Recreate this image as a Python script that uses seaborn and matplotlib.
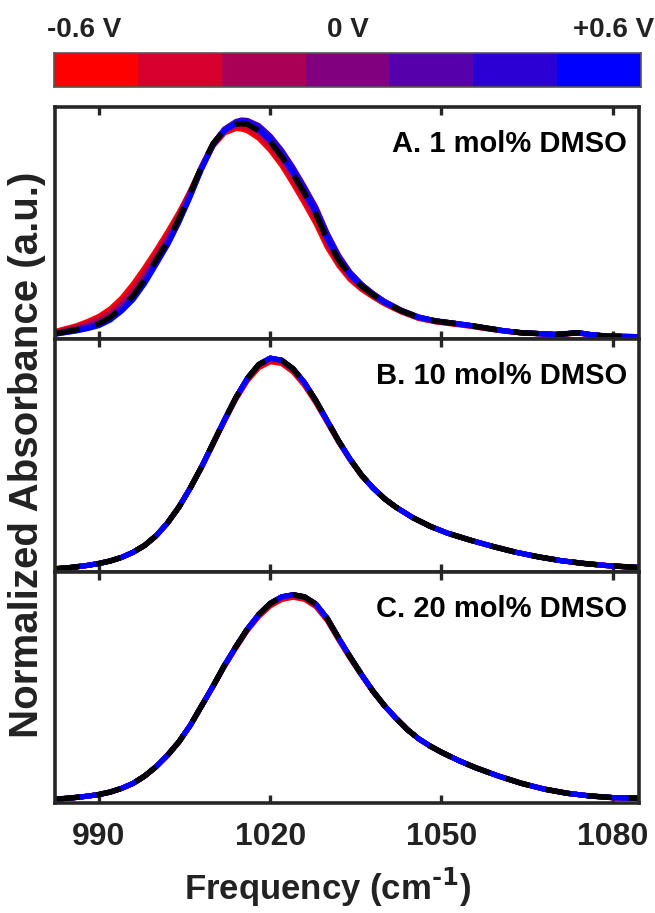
import numpy as np
import pandas as pd
import matplotlib
matplotlib.use("Agg")
import matplotlib.pyplot as plt
import seaborn as sns
from matplotlib.colors import ListedColormap

# Applied potentials and their colours (red -> blue)
potentials = ["-0.6 V", "-0.4 V", "-0.2 V", "0 V", "+0.2 V", "+0.4 V", "+0.6 V"]
potential_colors = ["#ff0000", "#d5002b", "#aa0055", "#800080", "#5500aa", "#2b00d5", "#0000ff"]
scale_labels = ["-0.6 V", "0 V", "+0.6 V"]

panel_titles = ["A. 1 mol% DMSO", "B. 10 mol% DMSO", "C. 20 mol% DMSO"]
x_ticks = [990, 1020, 1050, 1080]

# ---- A. 1 mol% DMSO -------------------------------------------------------
freq_a = [982.3, 984, 986, 988, 990, 992, 994, 996, 998, 1000,
          1002, 1004, 1006, 1008, 1010, 1012, 1014, 1015, 1016, 1018,
          1020, 1022, 1024, 1026, 1028, 1030, 1032, 1034, 1036, 1038,
          1040, 1043, 1046, 1049, 1052, 1055, 1058, 1061, 1064, 1067,
          1070, 1072, 1074, 1076, 1079, 1084.6]
a_ref = [0.02, 0.028, 0.038, 0.05, 0.066, 0.095, 0.14, 0.195, 0.27, 0.36,
         0.445, 0.55, 0.67, 0.795, 0.9, 0.965, 0.99, 0.993, 0.99, 0.96,
         0.91, 0.84, 0.76, 0.67, 0.575, 0.455, 0.36, 0.29, 0.24, 0.2,
         0.165, 0.125, 0.095, 0.078, 0.068, 0.058, 0.045, 0.033, 0.024, 0.02,
         0.016, 0.02, 0.024, 0.016, 0.008, 0.006]
a_m06 = [0.03, 0.042, 0.056, 0.076, 0.1, 0.135, 0.185, 0.25, 0.325, 0.405,
         0.49, 0.58, 0.68, 0.79, 0.89, 0.95, 0.97, 0.968, 0.96, 0.925,
         0.87, 0.8, 0.715, 0.625, 0.53, 0.42, 0.335, 0.27, 0.225, 0.19,
         0.158, 0.12, 0.09, 0.074, 0.064, 0.054, 0.042, 0.031, 0.023, 0.02,
         0.016, 0.019, 0.022, 0.014, 0.007, 0.006]
a_m04 = [0.027, 0.038, 0.051, 0.068, 0.09, 0.122, 0.168, 0.23, 0.305, 0.39,
         0.475, 0.57, 0.68, 0.795, 0.895, 0.958, 0.98, 0.98, 0.975, 0.94,
         0.885, 0.815, 0.732, 0.642, 0.548, 0.435, 0.345, 0.278, 0.23, 0.193,
         0.16, 0.122, 0.092, 0.076, 0.066, 0.056, 0.043, 0.032, 0.023, 0.02,
         0.016, 0.019, 0.023, 0.015, 0.007, 0.006]
a_m02 = [0.024, 0.034, 0.046, 0.061, 0.08, 0.11, 0.155, 0.215, 0.29, 0.375,
         0.46, 0.56, 0.675, 0.795, 0.9, 0.965, 0.993, 0.995, 0.99, 0.958,
         0.905, 0.835, 0.752, 0.662, 0.567, 0.45, 0.357, 0.287, 0.238, 0.199,
         0.164, 0.124, 0.094, 0.077, 0.067, 0.057, 0.044, 0.033, 0.024, 0.02,
         0.016, 0.02, 0.024, 0.016, 0.008, 0.006]
a_0 = [0.021, 0.03, 0.041, 0.055, 0.072, 0.1, 0.145, 0.2, 0.275, 0.362,
       0.448, 0.552, 0.67, 0.795, 0.9, 0.968, 1.0, 1.005, 1.003, 0.978,
       0.93, 0.862, 0.782, 0.692, 0.597, 0.478, 0.378, 0.302, 0.247, 0.205,
       0.169, 0.128, 0.097, 0.079, 0.069, 0.058, 0.045, 0.033, 0.024, 0.02,
       0.016, 0.02, 0.024, 0.016, 0.008, 0.006]
a_p02 = [0.019, 0.027, 0.037, 0.05, 0.066, 0.093, 0.136, 0.19, 0.265, 0.352,
         0.44, 0.545, 0.665, 0.792, 0.9, 0.968, 1.003, 1.01, 1.008, 0.984,
         0.936, 0.87, 0.79, 0.7, 0.605, 0.484, 0.382, 0.304, 0.249, 0.206,
         0.17, 0.128, 0.097, 0.079, 0.069, 0.058, 0.045, 0.033, 0.024, 0.02,
         0.016, 0.02, 0.024, 0.016, 0.008, 0.006]
a_p04 = [0.018, 0.025, 0.034, 0.046, 0.061, 0.088, 0.13, 0.183, 0.258, 0.345,
         0.434, 0.54, 0.66, 0.788, 0.897, 0.965, 1.0, 1.007, 1.005, 0.98,
         0.932, 0.865, 0.785, 0.695, 0.6, 0.479, 0.378, 0.301, 0.247, 0.205,
         0.168, 0.127, 0.096, 0.079, 0.069, 0.058, 0.045, 0.033, 0.024, 0.02,
         0.016, 0.02, 0.024, 0.016, 0.008, 0.006]
a_p06 = [0.017, 0.024, 0.032, 0.043, 0.057, 0.083, 0.125, 0.178, 0.252, 0.34,
         0.43, 0.535, 0.655, 0.783, 0.892, 0.96, 0.993, 0.998, 0.995, 0.965,
         0.915, 0.845, 0.765, 0.675, 0.58, 0.46, 0.364, 0.292, 0.241, 0.2,
         0.165, 0.125, 0.095, 0.078, 0.068, 0.058, 0.045, 0.033, 0.024, 0.02,
         0.016, 0.02, 0.024, 0.016, 0.008, 0.006]

# ---- B. 10 mol% DMSO ------------------------------------------------------
freq_b = [982.3, 985, 988, 990, 992, 994, 996, 998, 1000, 1002,
          1004, 1006, 1008, 1010, 1012, 1014, 1016, 1018, 1020, 1022,
          1024, 1026, 1028, 1030, 1032, 1034, 1036, 1038, 1040, 1042,
          1045, 1048, 1051, 1055, 1059, 1063, 1067, 1071, 1075, 1079, 1084.6]
b_ref = [0.01, 0.016, 0.026, 0.035, 0.047, 0.064, 0.088, 0.12, 0.165, 0.225,
         0.3, 0.39, 0.49, 0.6, 0.71, 0.815, 0.905, 0.97, 1.0, 0.99,
         0.95, 0.885, 0.8, 0.705, 0.61, 0.525, 0.45, 0.39, 0.34, 0.3,
         0.25, 0.21, 0.178, 0.145, 0.115, 0.088, 0.066, 0.048, 0.035, 0.025, 0.016]
b_m06 = [0.01, 0.016, 0.026, 0.035, 0.047, 0.064, 0.088, 0.12, 0.165, 0.225,
         0.3, 0.39, 0.49, 0.597, 0.705, 0.808, 0.894, 0.955, 0.983, 0.975,
         0.935, 0.872, 0.79, 0.698, 0.605, 0.522, 0.448, 0.39, 0.34, 0.3,
         0.25, 0.21, 0.178, 0.145, 0.115, 0.088, 0.066, 0.048, 0.035, 0.025, 0.016]
b_m04 = [0.01, 0.016, 0.026, 0.035, 0.047, 0.064, 0.088, 0.12, 0.165, 0.225,
         0.3, 0.39, 0.49, 0.598, 0.708, 0.812, 0.9, 0.962, 0.99, 0.982,
         0.942, 0.878, 0.795, 0.701, 0.607, 0.523, 0.449, 0.39, 0.34, 0.3,
         0.25, 0.21, 0.178, 0.145, 0.115, 0.088, 0.066, 0.048, 0.035, 0.025, 0.016]
b_rest = [0.01, 0.016, 0.026, 0.035, 0.047, 0.064, 0.088, 0.12, 0.165, 0.225,
          0.3, 0.39, 0.49, 0.6, 0.71, 0.815, 0.905, 0.97, 1.0, 0.99,
          0.95, 0.885, 0.8, 0.705, 0.61, 0.525, 0.45, 0.39, 0.34, 0.3,
          0.25, 0.21, 0.178, 0.145, 0.115, 0.088, 0.066, 0.048, 0.035, 0.025, 0.016]

# ---- C. 20 mol% DMSO ------------------------------------------------------
freq_c = [982.3, 985, 988, 990, 992, 994, 996, 998, 1000, 1002,
          1004, 1006, 1008, 1010, 1012, 1014, 1016, 1018, 1020, 1022,
          1024, 1026, 1028, 1030, 1032, 1034, 1036, 1038, 1040, 1042,
          1044, 1046, 1048, 1050, 1053, 1056, 1060, 1064, 1068, 1072,
          1076, 1080, 1084.6]
c_ref = [0.013, 0.019, 0.028, 0.036, 0.048, 0.066, 0.09, 0.125, 0.17, 0.225,
         0.29, 0.37, 0.465, 0.56, 0.66, 0.75, 0.835, 0.905, 0.958, 0.99,
         1.0, 0.99, 0.955, 0.885, 0.79, 0.7, 0.615, 0.535, 0.465, 0.405,
         0.35, 0.305, 0.27, 0.24, 0.2, 0.165, 0.125, 0.09, 0.062, 0.042,
         0.029, 0.021, 0.018]
c_m06 = [0.013, 0.019, 0.028, 0.036, 0.048, 0.066, 0.09, 0.125, 0.17, 0.225,
         0.29, 0.37, 0.465, 0.558, 0.655, 0.744, 0.828, 0.895, 0.946, 0.977,
         0.988, 0.978, 0.943, 0.875, 0.782, 0.694, 0.611, 0.533, 0.465, 0.405,
         0.35, 0.305, 0.27, 0.24, 0.2, 0.165, 0.125, 0.09, 0.062, 0.042,
         0.029, 0.021, 0.018]
c_m04 = [0.013, 0.019, 0.028, 0.036, 0.048, 0.066, 0.09, 0.125, 0.17, 0.225,
         0.29, 0.37, 0.465, 0.559, 0.657, 0.747, 0.831, 0.9, 0.952, 0.983,
         0.994, 0.984, 0.949, 0.88, 0.786, 0.697, 0.613, 0.534, 0.465, 0.405,
         0.35, 0.305, 0.27, 0.24, 0.2, 0.165, 0.125, 0.09, 0.062, 0.042,
         0.029, 0.021, 0.018]
c_rest = [0.013, 0.019, 0.028, 0.036, 0.048, 0.066, 0.09, 0.125, 0.17, 0.225,
          0.29, 0.37, 0.465, 0.56, 0.66, 0.75, 0.835, 0.905, 0.958, 0.99,
          1.0, 0.99, 0.955, 0.885, 0.79, 0.7, 0.615, 0.535, 0.465, 0.405,
          0.35, 0.305, 0.27, 0.24, 0.2, 0.165, 0.125, 0.09, 0.062, 0.042,
          0.029, 0.021, 0.018]

panels = [
    (freq_a, [a_m06, a_m04, a_m02, a_0, a_p02, a_p04, a_p06], a_ref),
    (freq_b, [b_m06, b_m04, b_rest, b_rest, b_rest, b_rest, b_rest], b_ref),
    (freq_c, [c_m06, c_m04, c_rest, c_rest, c_rest, c_rest, c_rest], c_ref),
]


def long_table(freq, series):
    frames = []
    for label, values in zip(potentials, series):
        frames.append(pd.DataFrame({"freq": freq, "absorbance": values, "potential": label}))
    return pd.concat(frames, ignore_index=True)


sns.set_theme(style="white")
plt.rcParams["font.family"] = ["Liberation Sans", "DejaVu Sans"]
plt.rcParams["font.weight"] = "bold"
plt.rcParams["axes.labelweight"] = "bold"
plt.rcParams["mathtext.default"] = "bf"

W_PX, H_PX = 655, 913
fig = plt.figure(figsize=(W_PX / 100, H_PX / 100), dpi=100)


def frac_box(left, top, right, bottom):
    return [left / W_PX, 1 - bottom / H_PX, (right - left) / W_PX, (bottom - top) / H_PX]


edge = "#262626"
text_col = "#222222"

# discrete potential scale bar
cax = fig.add_axes(frac_box(54, 53, 641, 87))
sns.heatmap(np.arange(len(potentials)).reshape(1, -1), cmap=ListedColormap(potential_colors),
            cbar=False, ax=cax, xticklabels=False, yticklabels=False, linewidths=0)
for sp in cax.spines.values():
    sp.set_visible(True)
    sp.set_color("#555555")
    sp.set_linewidth(1.2)
for xc, lab in zip([84, 348, 614], scale_labels):
    fig.text(xc / W_PX, 1 - 37 / H_PX, lab, ha="center", va="baseline",
             fontsize=20, fontweight="bold", color=text_col)

boxes = [(55, 107, 639, 339), (55, 339, 639, 572), (55, 572, 639, 803)]
ylims = [(-0.005, 1.07), (-0.005, 1.09), (-0.005, 1.11)]
axes = []
for i, ((freq, series, ref), box) in enumerate(zip(panels, boxes)):
    ax = fig.add_axes(frac_box(*box))
    axes.append(ax)
    df = long_table(freq, series)
    sns.lineplot(data=df, x="freq", y="absorbance", hue="potential", hue_order=potentials,
                 palette=potential_colors, estimator=None, sort=False, linewidth=3.7,
                 legend=False, ax=ax)
    sns.lineplot(x=freq, y=ref, color="black", linewidth=4.0, linestyle=(0, (4.5, 3)),
                 estimator=None, sort=False, ax=ax)
    ax.set_xlim(982.3, 1084.6)
    ax.set_ylim(*ylims[i])
    ax.set_xticks(x_ticks)
    ax.set_yticks([])
    ax.set_ylabel("")
    ax.set_xlabel("")
    for sp in ax.spines.values():
        sp.set_visible(True)
        sp.set_color(edge)
        sp.set_linewidth(2.6)
    ax.tick_params(axis="x", direction="in", top=True, bottom=True, length=6, width=2.4,
                   color=edge, labelsize=23, labelcolor=text_col, pad=14,
                   labelbottom=(i == 2))
    ax.text(0.98, 0.9, panel_titles[i], transform=ax.transAxes, ha="right", va="top",
            fontsize=21, fontweight="bold", color="black")

fig.text(328 / W_PX, 1 - 900 / H_PX, "Frequency (cm$^{\\text{-}1}$)", ha="center",
         va="baseline", fontsize=25, fontweight="bold", color=text_col)
fig.text(27 / W_PX, 1 - 455 / H_PX, "Normalized Absorbance (a.u.)", rotation=90,
         ha="center", va="center", fontsize=29, fontweight="bold", color=text_col)

fig.savefig("out.png", dpi=100)
